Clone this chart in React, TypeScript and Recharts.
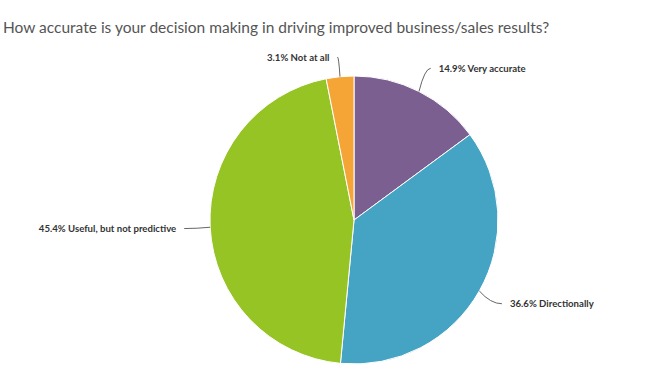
import React from 'react';
import { PieChart, Pie, Cell } from 'recharts';

const answers = ['Very accurate', 'Directionally', 'Useful, but not predictive', 'Not at all'];
const shares = [14.9, 36.6, 45.4, 3.1];
const colors = ['#7B5F91', '#45A3C3', '#96C425', '#F4A536'];

const title = 'How accurate is your decision making in driving improved business/sales results?';

const data = answers.map((name, i) => ({ name, value: shares[i] }));

const RAD = Math.PI / 180;

function renderLabel(props: any) {
  const { cx, cy, midAngle, outerRadius, index } = props;
  const cos = Math.cos(-midAngle * RAD);
  const sin = Math.sin(-midAngle * RAD);
  const ex = cx + outerRadius * cos;
  const ey = cy + outerRadius * sin;
  const dist = outerRadius + 26;
  const lx = cx + dist * cos;
  let ly = cy + dist * sin;
  if (ly < 57) ly = 57;
  const right = cos >= 0;
  const qx = (ex + lx) / 2;
  const tx = lx + (right ? 8 : -8);
  return (
    <g key={`lbl-${index}`}>
      <path
        d={`M${ex},${ey} Q${qx},${ly} ${lx},${ly}`}
        stroke="#666"
        strokeWidth={1}
        fill="none"
      />
      <text
        x={tx}
        y={ly}
        dy={3.5}
        textAnchor={right ? 'start' : 'end'}
        fill="#333"
        fontFamily="Lato, sans-serif"
        fontWeight="bold"
        fontSize={9.6}
      >
        {`${shares[index]}% ${answers[index]}`}
      </text>
    </g>
  );
}

export default function App() {
  return (
    <div style={{ position: 'absolute', left: 0, top: 0, width: 672, height: 390, background: '#fff' }}>
      <div
        style={{
          position: 'absolute',
          left: 3,
          top: 18,
          fontFamily: 'Lato, sans-serif',
          fontSize: 15.5,
          lineHeight: '18px',
          color: '#555',
          whiteSpace: 'nowrap',
        }}
      >
        {title}
      </div>
      <PieChart width={672} height={390} margin={{ top: 0, right: 0, bottom: 0, left: 0 }}>
        <Pie
          data={data}
          dataKey="value"
          nameKey="name"
          cx={354}
          cy={220}
          outerRadius={144}
          startAngle={90}
          endAngle={-270}
          stroke="#fff"
          strokeWidth={1}
          label={renderLabel}
          labelLine={false}
          isAnimationActive={false}
        >
          {data.map((d, i) => (
            <Cell key={d.name} fill={colors[i]} />
          ))}
        </Pie>
      </PieChart>
    </div>
  );
}
